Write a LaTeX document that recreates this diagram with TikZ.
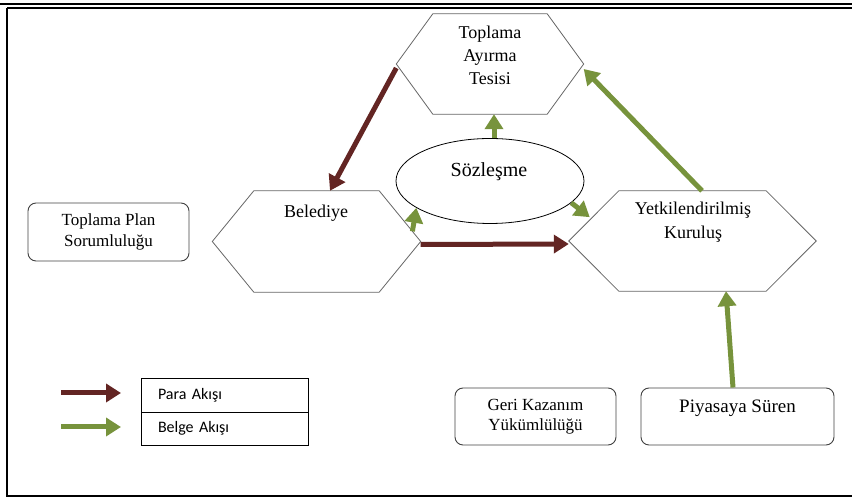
\documentclass[tikz,border=0pt]{standalone}
\usepackage{fontspec}
\setmainfont{Liberation Serif}
\newfontfamily\legfont{Carlito}
\usepackage{tikz}
\usetikzlibrary{arrows.meta, positioning, shapes.geometric, calc}
\definecolor{paracol}{RGB}{99,37,35}
\definecolor{belgecol}{RGB}{119,147,60}

% hexagon outline round a body node: name, inset
\newcommand{\hexa}[2]{%
  \draw[hexline] (#1.north west) -- (#1.north east) -- ([xshift=#2]#1.east) coordinate (#1-e)
    -- (#1.south east) -- (#1.south west) -- ([xshift=-#2]#1.west) coordinate (#1-w) -- cycle;}

\begin{document}
\begin{tikzpicture}[x=1pt, y=1pt,
    hexbody/.style={inner sep=0pt},
    hexline/.style={draw=black!60, line width=0.8pt},
    hextxt/.style={anchor=north, inner sep=0pt, align=center,
                   font=\fontsize{18}{23}\selectfont},
    box/.style={draw=black!75, line width=0.9pt, rounded corners=8pt,
                align=center, inner sep=0pt, font=\fontsize{17}{20.5}\selectfont},
    para/.style={-{Triangle[length=15pt, width=18pt]}, line width=5pt, paracol},
    belge/.style={-{Triangle[length=15pt, width=18pt]}, line width=5pt, belgecol},
    leg/.style={draw, line width=0.8pt, minimum height=33.5pt, text width=133pt,
                inner xsep=17pt, align=left, font=\legfont\fontsize{16}{19}\selectfont},
    frame/.style={line width=1.6pt},
  ]
    \useasboundingbox (0,0) rectangle (852,500);

    % Page frame
    \draw[frame] (0,496) -- (852,496);
    \draw[frame] (7,492) -- (852,492);
    \draw[frame] (7,492) -- (7,4) -- (852,4);

    % Hexagons
    \node[hexbody, minimum width=114pt, minimum height=100pt] (top) at (490,436) {};
    \hexa{top}{36.5pt}
    \node[hextxt] (toptxt) at (490,474) {Toplama\\Ayırma\\Tesisi};

    \node[hexbody, minimum width=125pt, minimum height=101pt] (bel) at (316.5,258.5) {};
    \hexa{bel}{41.5pt}
    \node[hextxt] (beltxt) at (316,295) {Belediye};

    \node[hexbody, minimum width=147pt, minimum height=100pt] (yet) at (692.5,259) {};
    \hexa{yet}{50pt}
    \node[hextxt, font=\fontsize{18}{24}\selectfont] (yettxt) at (693,298)
      {Yetkilendirilmiş\\Kuruluş};

    % Contract
    \node[ellipse, draw, line width=0.8pt, minimum width=188pt, minimum height=85pt,
          inner sep=0pt] (soz) at (490,319) {};
    \node[hextxt, font=\fontsize{20}{24}\selectfont] (soztxt) at (489,338) {Sözleşme};

    % Boxes
    \node[box, minimum width=161pt, minimum height=58pt] (plan) at (108.5,268)
      {Toplama Plan\\Sorumluluğu};
    \node[box, minimum width=161pt, minimum height=57pt] (geri) at (535.5,83.5)
      {Geri Kazanım\\Yükümlülüğü};
    \node[box, minimum width=193pt, minimum height=57pt] (piy) at (737.5,83.5) {};
    \node[hextxt, font=\fontsize{19}{23}\selectfont] (piytxt) at (737.5,100)
      {Piyasaya Süren};

    % Legend
    \node[leg] (legpara)  at (224.5,104.75) {Para Akışı};
    \node[leg] (legbelge) at (224.5,71.25)  {Belge Akışı};
    \coordinate (pa0) at (61,107);  \coordinate (pa1) at (121,107);
    \coordinate (be0) at (61,73);   \coordinate (be1) at (121,73);
    \draw[para]  (pa0) -- (pa1);
    \draw[belge] (be0) -- (be1);

    % Flows
    \draw[para] ([yshift=-4pt]top-w) -- ([xshift=13.5pt]bel.north);
    \draw[para] ([yshift=-3pt]bel-e) -- ([yshift=-3pt]yet-w);
    \draw[belge] ([xshift=9.5pt]yet.north) -- ([yshift=-5pt]top-e);
    \draw[belge] ([xshift=4pt]soz.north) -- ([xshift=4pt]top.south);
    \draw[belge, shorten >=2pt] (soz.-15) -- ($(yet-w)!0.45!(yet.north west)$);
    \draw[belge] ($(bel.north east)!0.8!(bel-e)$) -- (soz.200);
    \draw[belge] ([xshift=-4.5pt]piy.north) -- ([xshift=33.5pt]yet.south);
\end{tikzpicture}
\end{document}
